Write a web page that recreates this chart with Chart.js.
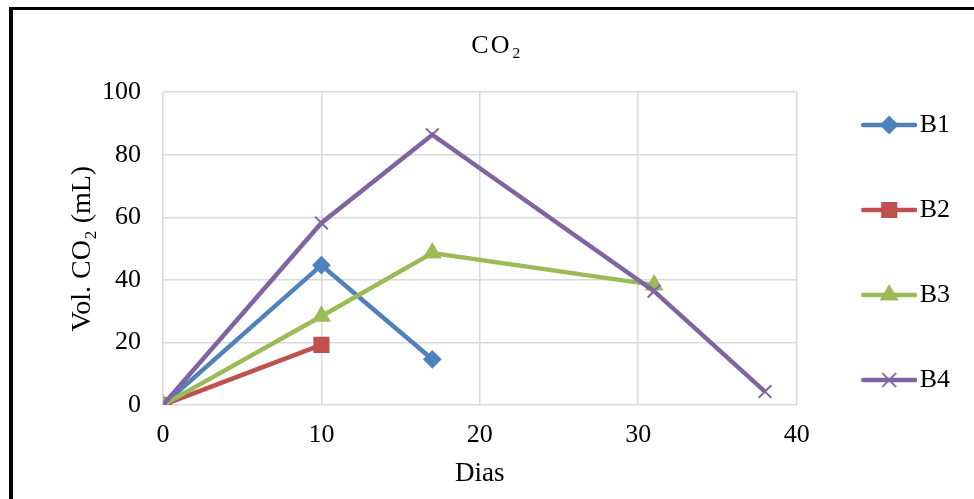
<!DOCTYPE html>
<html>
<head>
<meta charset="utf-8">
<script src="https://cdn.jsdelivr.net/npm/chart.js@4/dist/chart.umd.min.js"></script>
<style>
  html, body { margin: 0; padding: 0; background: #fff; }
  #wrap { position: relative; width: 974px; height: 499px; overflow: hidden; }
  #c { position: absolute; left: 0; top: 0; }
  #frame { position: absolute; left: 9px; top: 7px; width: 980px; height: 489px;
           border-left: 4px solid #000; border-top: 3px solid #000; border-bottom: 1px solid #e3e3e3;
           pointer-events: none; }
</style>
</head>
<body>
<div id="wrap">
  <canvas id="c" width="974" height="499"></canvas>
  <div id="frame"></div>
</div>
<script>
// ---- data ----
const days = [0, 10, 17, 31, 38];
const seriesNames = ['B1', 'B2', 'B3', 'B4'];
const B1 = [0, 44.7, 14.6, null, null];
const B2 = [0, 19.2, null, null, null];
const B3 = [0, 28.4, 48.6, 38.4, null];
const B4 = [0, 58.2, 86.4, 36.4, 4.3];
const xTicks = [0, 10, 20, 30, 40];
const yTicks = [0, 20, 40, 60, 80, 100];

const colors = ['#4F81BD', '#C0504D', '#9BBB59', '#8064A2'];
const styles = ['rectRot', 'rect', 'triangle', 'crossRot'];
const radii = [8, 10, 9, 9];
const pbw = [2, 2, 2, 2];

function pts(vals) {
  return days.map((d, i) => ({ x: d, y: vals[i] })).filter(p => p.y !== null);
}
const allSeries = [B1, B2, B3, B4];

const FONT = 'Liberation Serif, Times New Roman, serif';

// legend icons (line + marker) drawn with Chart.js helpers
function makeIcon(i) {
  const cv = document.createElement('canvas');
  cv.width = 72; cv.height = 26;
  const ctx = cv.getContext('2d');
  ctx.strokeStyle = colors[i];
  ctx.lineWidth = 4.5;
  ctx.lineCap = 'round';
  ctx.beginPath();
  ctx.moveTo(18, 13);
  ctx.lineTo(70, 13);
  ctx.stroke();
  ctx.fillStyle = colors[i];
  ctx.strokeStyle = colors[i];
  ctx.lineWidth = pbw[i];
  Chart.helpers.drawPoint(ctx, { pointStyle: styles[i], radius: radii[i], borderWidth: pbw[i], rotation: 0 }, 44, 13);
  return cv;
}

const datasets = allSeries.map((vals, i) => ({
  label: seriesNames[i],
  data: pts(vals),
  borderColor: colors[i],
  backgroundColor: colors[i],
  borderWidth: 4.5,
  pointStyle: styles[i],
  pointRadius: radii[i],
  pointBorderWidth: pbw[i],
  pointBackgroundColor: colors[i],
  pointBorderColor: colors[i],
  tension: 0,
  order: 4 - i
}));

const icons = [0, 1, 2, 3].map(makeIcon);

new Chart(document.getElementById('c'), {
  type: 'line',
  data: { datasets },
  options: {
    responsive: false,
    animation: false,
    devicePixelRatio: 1,
    layout: { padding: { left: 32, right: 14, top: 6, bottom: 0 } },
    plugins: {
      tooltip: { enabled: false },
      title: {
        display: true,
        text: 'C\u200AO\u200A\u2082',
        color: '#000',
        font: { family: FONT, size: 26, weight: 'normal' },
        padding: { top: 25, bottom: 30 }
      },
      legend: {
        position: 'right',
        align: 'center',
        labels: {
          color: '#000',
          font: { family: FONT, size: 26 },
          usePointStyle: true,
          pointStyleWidth: 51,
          padding: 59,
          sort: (a, b) => a.datasetIndex - b.datasetIndex,
          generateLabels: (chart) => {
            const items = Chart.defaults.plugins.legend.labels.generateLabels(chart);
            return items.map(it => Object.assign({}, it, { pointStyle: icons[it.datasetIndex], lineWidth: 0 }));
          }
        }
      }
    },
    scales: {
      x: {
        type: 'linear',
        min: 0, max: 40,
        afterBuildTicks: (s) => { s.ticks = xTicks.map(v => ({ value: v })); },
        afterFit: (s) => { s.height = 94; },
        grid: { color: '#d9d9d9', lineWidth: 1.5, drawTicks: false },
        border: { display: false },
        ticks: { color: '#000', font: { family: FONT, size: 26 }, padding: 15, maxRotation: 0 },
        title: { display: true, text: 'Dias', color: '#000', font: { family: FONT, size: 27 }, padding: { top: 0, bottom: 9 } }
      },
      y: {
        min: 0, max: 100,
        afterBuildTicks: (s) => { s.ticks = yTicks.map(v => ({ value: v })); },
        afterFit: (s) => { s.width = 131; },
        grid: { color: '#d9d9d9', lineWidth: 1.5, drawTicks: false },
        border: { display: false },
        ticks: { color: '#000', font: { family: FONT, size: 26 }, padding: 22 },
        title: { display: true, text: 'Vol. CO\u2082 (mL)', color: '#000', font: { family: FONT, size: 28 }, padding: { top: 34, bottom: 0 } }
      }
    }
  }
});
</script>
</body>
</html>
